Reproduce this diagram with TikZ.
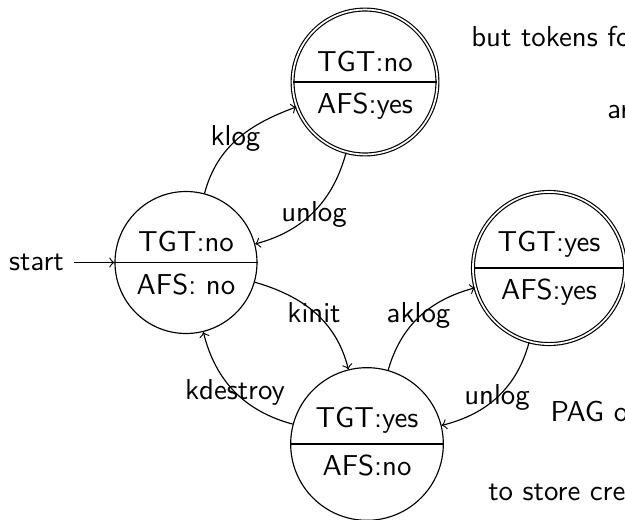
\documentclass[tikz,border=0pt]{standalone}
\begin{document}
\begin{tikzpicture}[x=0.3472pt,y=-0.3472pt, font=\sffamily,
  st/.style={circle,draw,inner sep=0pt,line width=0.4pt},
  acc/.style={st,double,double distance=0.6pt},
  part/.style={inner sep=0pt},
  lbl/.style={inner sep=0pt,anchor=base},
  txt/.style={inner sep=0pt,anchor=base west},
  ed/.style={->,line width=0.4pt}]
\useasboundingbox (0,0) rectangle (625,520);
\clip (0,0) rectangle (625,520);
% states
\node[st,minimum size=49.3pt] (q0) at (186,262.5) {};
\node[acc,minimum size=50.3pt] (q1) at (365,82) {};
\node[st,minimum size=53pt] (q2) at (367,444) {};
\node[acc,minimum size=52.8pt] (q3) at (549,268) {};
% split lines
\draw (q0.west) -- (q0.east);
\draw ([xshift=0.5pt]q1.west) -- ([xshift=-0.5pt]q1.east);
\draw (q2.west) -- (q2.east);
\draw ([xshift=0.5pt]q3.west) -- ([xshift=-0.5pt]q3.east);
% parts
\node[part,anchor=south] (q0t) at ([yshift=3.5pt]q0.center) {TGT:no};
\node[part,anchor=north] (q0b) at ([yshift=-3.6pt]q0.center) {AFS: no};
\node[part,anchor=south] (q1t) at ([yshift=3.5pt]q1.center) {TGT:no};
\node[part,anchor=north] (q1b) at ([yshift=-3.6pt]q1.center) {AFS:yes};
\node[part,anchor=south] (q2t) at ([yshift=3.5pt]q2.center) {TGT:yes};
\node[part,anchor=north] (q2b) at ([yshift=-3.6pt]q2.center) {AFS:no};
\node[part,anchor=south] (q3t) at ([yshift=3.5pt]q3.center) {TGT:yes};
\node[part,anchor=north] (q3b) at ([yshift=-3.6pt]q3.center) {AFS:yes};
% start
\node[inner sep=3.33pt] (start) at (36.5,262.5) {start};
\draw[ed] (start) -- (q0);
% transitions
\draw[ed] (q0) to[out=75,in=200] (q1);
\draw[ed] (q1) to[out=255,in=15] (q0);
\draw[ed] (q0) to[out=-16,in=104] (q2);
\draw[ed] (q2) to[out=74,in=195] (q3);
\draw[ed] (q3) to[out=255,in=14] (q2);
\draw[ed] (q2) to[out=165,in=284] (q0);
% labels
\node[lbl] (lk) at (235.5,145) {klog};
\node[lbl] (lu1) at (314,221) {unlog};
\node[lbl] (lki) at (314,322.5) {kinit};
\node[lbl] (la) at (418.5,322.5) {aklog};
\node[lbl] (lu2) at (497,404) {unlog};
\node[lbl] (lkd) at (235,399) {kdestroy};
% side texts
\node[txt] (t1) at (470.7,46) {but tokens fo};
\node[txt] (t2) at (606.7,118.3) {ar};
\node[txt] (t3) at (550,421) {PAG o};
\node[txt] (t4) at (487.7,500) {to store cre};
\end{tikzpicture}
\end{document}
